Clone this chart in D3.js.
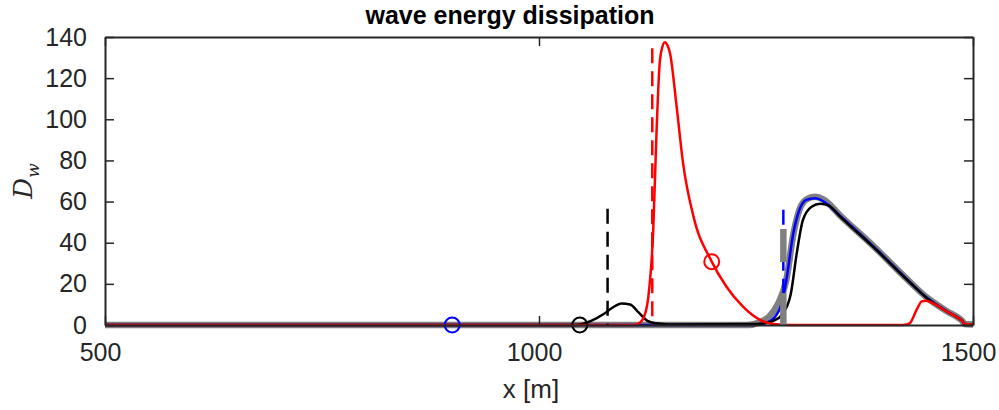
<!DOCTYPE html>
<html>
  <head>
    <meta charset="utf-8">
    <title>wave energy dissipation</title>
    <style>
      body { margin: 0; background: #fff; }
      text { font-family: "Liberation Sans", Arial, sans-serif; fill: #262626; }
    </style>
  </head>
  <body>
    <script src="https://d3js.org/d3.v7.min.js"></script>
    <script>
      // datos
      var xTicks = [500, 1000, 1500];
      var yTicks = [0, 20, 40, 60, 80, 100, 120, 140];

      // linea gris gruesa
      var xGray = [500, 1240, 1255, 1265, 1275, 1285, 1293, 1300, 1308, 1318, 1328, 1347, 1385, 1424, 1447, 1470, 1485, 1488, 1490, 1500];
      var yGray = [0, 0, 1.5, 4, 10, 22, 44, 56, 61, 62.3, 61, 53.2, 38.5, 22.3, 13.3, 6.7, 2.9, 1.8, 0.5, 0.3];

      // linea azul
      var xBlue = [500, 1250, 1262, 1272, 1280, 1285, 1293, 1300, 1308, 1318, 1328, 1347, 1385, 1424, 1447, 1470, 1485, 1488, 1490, 1500];
      var yBlue = [0, 0, 1, 4, 11, 22, 44.6, 56, 60.8, 61.6, 60, 53, 38.3, 22.2, 13.2, 6.6, 2.9, 1.8, 0.5, 0.3];

      // linea negra
      var xBlack = [500, 1040, 1050, 1060, 1075, 1085, 1095, 1105, 1115, 1125, 1135, 1150, 1250, 1262, 1270, 1280, 1290, 1297, 1304, 1314, 1324, 1334, 1347, 1385, 1424, 1447, 1470, 1485, 1488, 1490, 1500];
      var yBlack = [0, 0, 0.5, 2, 5.5, 8.5, 10.5, 10, 6, 2, 0.8, 0.3, 0.5, 1, 2, 5, 15, 35, 51, 57.5, 59, 58, 52.7, 38, 22, 13, 6.5, 2.8, 1.8, 0.5, 0.3];

      // linea roja
      var xRed = [500, 1110, 1116, 1121, 1126, 1131.6, 1135.5, 1139, 1142, 1145, 1148, 1151, 1158.6, 1166, 1178, 1199, 1216, 1235, 1255, 1270, 1290, 1420, 1427, 1435, 1441, 1446, 1450, 1470, 1485, 1488, 1490, 1500];
      var yRed = [0, 0, 1, 4, 13.8, 46, 95, 127, 135, 137.5, 136, 132, 106, 78.6, 52.7, 30.8, 18.6, 8.9, 2.4, 0.5, 0, 0, 0.8, 7.3, 11.5, 11.8, 11.3, 6.5, 2.8, 1.8, 0.5, 0.3];

      // lineas verticales discontinuas [x, altura]
      var dashX = [1079, 1130.5, 1281.5, 1281.5];
      var dashTop = [56.5, 134.5, 56, 46.7];
      var dashColor = ["#000", "#f00", "#00f", "#808080"];

      // marcadores circulares
      var markX = [900, 1047, 1199];
      var markY = [0, 0, 30.8];
      var markColor = ["#00f", "#000", "#f00"];

      var width = 999, height = 410;
      var margin = {left: 105, right: 26, top: 37, bottom: 85};

      var svg = d3.select("body").append("svg")
        .attr("width", width)
        .attr("height", height);

      var x = d3.scaleLinear().domain([500, 1500]).range([margin.left, width - margin.right]);
      var y = d3.scaleLinear().domain([0, 140]).range([height - margin.bottom, margin.top]);

      svg.append("clipPath").attr("id", "clip")
        .append("rect")
        .attr("x", x(500)).attr("y", y(140) - 2)
        .attr("width", x(1500) - x(500)).attr("height", y(0) - y(140) + 6);

      var plot = svg.append("g").attr("clip-path", "url(#clip)");

      var line = d3.line()
        .x(function(d) { return x(d[0]); })
        .y(function(d) { return y(d[1]); })
        .curve(d3.curveMonotoneX);

      function serie(xs, ys, color, w) {
        plot.append("path")
          .datum(d3.zip(xs, ys))
          .attr("fill", "none")
          .attr("stroke", color)
          .attr("stroke-width", w)
          .attr("stroke-linejoin", "round")
          .attr("d", line);
      }

      serie(xGray, yGray, "#808080", 6.5);
      serie(xBlue, yBlue, "#0000ff", 2.5);
      serie(xBlack, yBlack, "#000000", 2.5);
      serie(xRed, yRed, "#ff0000", 2.5);

      // lineas discontinuas (desde arriba hacia abajo)
      dashX.forEach(function(d, i) {
        plot.append("line")
          .attr("x1", x(d)).attr("x2", x(d))
          .attr("y1", y(dashTop[i])).attr("y2", y(0))
          .attr("stroke", dashColor[i])
          .attr("stroke-width", i == 3 ? 6.5 : 2.5)
          .attr("stroke-dasharray", i == 3 ? "33,31" : "15,8");
      });

      markX.forEach(function(d, i) {
        svg.append("circle")
          .attr("cx", x(d)).attr("cy", y(markY[i]))
          .attr("r", 7.5)
          .attr("fill", "none")
          .attr("stroke", markColor[i])
          .attr("stroke-width", 2);
      });

      // ejes con marcas hacia dentro (estilo matlab, caja completa)
      var axisColor = "#262626";
      var fmt = d3.format("d");
      var xAxis = svg.append("g")
        .attr("transform", "translate(0," + y(0) + ")")
        .call(d3.axisBottom(x).tickValues(xTicks).tickFormat(fmt).tickSizeInner(-9).tickSizeOuter(0).tickPadding(18));
      var xTop = svg.append("g")
        .attr("transform", "translate(0," + y(140) + ")")
        .call(d3.axisTop(x).tickValues(xTicks).tickSizeInner(-9).tickSizeOuter(0).tickFormat(""));
      var yAxis = svg.append("g")
        .attr("transform", "translate(" + x(500) + ",0)")
        .call(d3.axisLeft(y).tickValues(yTicks).tickFormat(fmt).tickSizeInner(-9).tickSizeOuter(0).tickPadding(18));
      var yRight = svg.append("g")
        .attr("transform", "translate(" + x(1500) + ",0)")
        .call(d3.axisRight(y).tickValues(yTicks).tickSizeInner(-9).tickSizeOuter(0).tickFormat(""));

      [xAxis, xTop, yAxis, yRight].forEach(function(g) {
        g.select(".domain").attr("stroke", axisColor).attr("stroke-width", 2);
        g.selectAll(".tick line").attr("stroke", axisColor).attr("stroke-width", 1.5);
        g.selectAll(".tick text")
          .attr("fill", axisColor)
          .style("font-family", "'Liberation Sans', Arial, sans-serif")
          .style("font-size", "25px");
      });
      // las etiquetas del eje x van un poco a la izquierda, como en la figura
      xAxis.selectAll(".tick text").attr("dx", -5);

      svg.append("text")
        .attr("x", 510)
        .attr("y", 24)
        .attr("text-anchor", "middle")
        .style("font-size", "25px")
        .style("font-weight", "bold")
        .style("fill", "#000")
        .text("wave energy dissipation");

      svg.append("text")
        .attr("x", 531)
        .attr("y", 398)
        .attr("text-anchor", "middle")
        .style("font-size", "26px")
        .text("x [m]");

      var yl = svg.append("text")
        .attr("transform", "translate(32," + ((y(0) + y(140)) / 2) + ") rotate(-90)")
        .attr("text-anchor", "middle")
        .style("font-family", "'DejaVu Serif', serif")
        .style("font-style", "italic")
        .style("font-size", "26px");
      yl.append("tspan").text("D");
      yl.append("tspan").attr("dy", 7).style("font-size", "17px").text("w");
    </script>
  </body>
</html>
